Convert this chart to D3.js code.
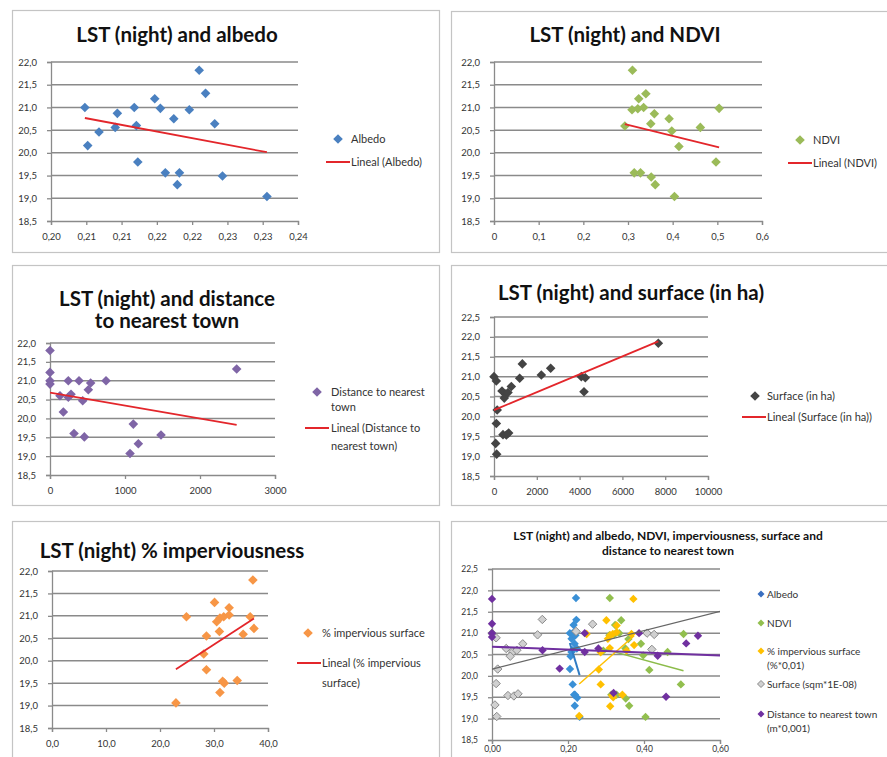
<!DOCTYPE html>
<html><head><meta charset="utf-8">
<script src="https://cdn.jsdelivr.net/npm/d3@7"></script>
<style>body{margin:0;background:#fff}svg{display:block}</style>
</head><body>
<svg id="c" width="887" height="757"></svg>
<script>
// ---------------- DATA ----------------
const albedoX = [0.2048,0.2052,0.2068,0.2091,0.2094,0.2118,0.2121,0.2123,0.2147,0.2155,0.2162,0.2174,0.2179,0.2182,0.2196,0.2210,0.2219,0.2232,0.2243,0.2306];
const albedoY = [21.00,20.16,20.46,20.56,20.87,21.00,20.60,19.80,21.19,20.98,19.56,20.75,19.30,19.56,20.95,21.82,21.31,20.64,19.49,19.04];

const ndviX = [0.310,0.293,0.309,0.324,0.322,0.335,0.340,0.359,0.351,0.392,0.398,0.414,0.462,0.504,0.497,0.314,0.328,0.352,0.361,0.404];
const ndviY = [21.82,20.59,20.95,21.19,20.97,21.00,21.30,20.86,20.64,20.75,20.48,20.14,20.56,20.98,19.80,19.56,19.56,19.47,19.30,19.04];

const distX = [0,0,0,0,133,244,178,244,280,387,436,320,458,511,542,747,1111,1067,1178,1480,2489];
const distY = [21.80,21.22,21.00,20.91,20.60,21.00,20.17,20.56,20.64,21.00,20.47,19.60,19.51,20.76,20.94,21.00,19.85,19.07,19.33,19.56,21.31];

const surfX = [0,109,150,109,78,125,374,545,480,654,810,1199,1324,2212,2648,4081,4268,4206,7679,420,576,685];
const surfY = [21.00,20.89,20.16,19.82,19.32,19.05,20.64,20.56,20.46,20.60,20.75,20.96,21.32,21.04,21.21,21.00,20.97,20.62,21.84,19.54,19.53,19.58];

const impX = [24.9,22.95,28.1,28.6,28.6,30.1,30.5,31.1,31.0,31.1,31.6,31.9,31.8,32.8,32.8,34.3,35.4,36.7,37.2,37.4];
const impY = [20.98,19.06,20.15,20.55,19.80,21.30,20.87,20.95,20.65,19.29,19.54,19.50,20.98,21.18,21.02,19.56,20.59,20.98,21.80,20.72];

// scale factors used in the combined chart
const combFactors = {albedo:1, ndvi:1, imp:0.01, surf:0.0001, dist:0.001};

// ticks
const yTicks22 = [18.5,19.0,19.5,20.0,20.5,21.0,21.5,22.0];
const yTicks225 = [18.5,19.0,19.5,20.0,20.5,21.0,21.5,22.0,22.5];
const albedoTicks = [0.200,0.205,0.210,0.215,0.220,0.225,0.230,0.235];
const albedoTickLabels = ["0,20","0,21","0,21","0,22","0,22","0,23","0,23","0,24"];
const ndviTicks = [0,0.1,0.2,0.3,0.4,0.5,0.6];
const ndviTickLabels = ["0","0,1","0,2","0,3","0,4","0,5","0,6"];
const distTicks = [0,1000,2000,3000];
const distTickLabels = ["0","1000","2000","3000"];
const surfTicks = [0,2000,4000,6000,8000,10000];
const surfTickLabels = ["0","2000","4000","6000","8000","10000"];
const impTicks = [0,10,20,30,40];
const impTickLabels = ["0,0","10,0","20,0","30,0","40,0"];
const combTicks = [0,0.2,0.4,0.6];
const combTickLabels = ["0,00","0,20","0,40","0,60"];

// ---------------- DRAW ----------------
const svg = d3.select('#c');
const FONT = 'Lato, "Open Sans", sans-serif';
const diamond = r => `M0,${-r}L${r},0L0,${r}L${-r},0Z`;
const fmtY = v => d3.format('.1f')(v).replace('.', ',');
const RED = '#e3262b';

function linreg(xs, ys){
  const mx = d3.mean(xs), my = d3.mean(ys);
  let sxy = 0, sxx = 0;
  xs.forEach((v,i)=>{ sxy += (v-mx)*(ys[i]-my); sxx += (v-mx)*(v-mx); });
  const b = sxy/sxx;
  return {a: my - b*mx, b};
}

function drawPanel(c){
  const g = svg.append('g');
  g.append('rect').attr('x',c.box[0]+0.5).attr('y',c.box[1]+0.5)
    .attr('width',c.box[2]-c.box[0]).attr('height',c.box[3]-c.box[1])
    .attr('fill','#fff').attr('stroke','#c4c4c4').attr('stroke-width',1.2);
  c.title.forEach((t,i)=>{
    g.append('text').attr('x',c.titleX).attr('y',c.titleY + i*c.titleLH)
      .attr('text-anchor','middle').attr('font-family',FONT).attr('font-weight','bold')
      .attr('font-size',c.titleSize).attr('fill','#111').text(t);
  });
  const x = d3.scaleLinear().domain(c.xDomain).range([c.plot[0], c.plot[2]]);
  const y = d3.scaleLinear().domain(c.yDomain).range([c.plot[3], c.plot[1]]);
  // gridlines
  g.append('g').selectAll('line').data(c.yTicks.filter(v=>v>c.yDomain[0])).join('line')
    .attr('x1',c.plot[0]).attr('x2',c.plot[2]).attr('y1',d=>y(d)).attr('y2',d=>y(d))
    .attr('stroke','#8a8a8a').attr('stroke-width',1.5);
  const ya = g.append('g').attr('transform',`translate(${c.plot[0]},0)`)
    .call(d3.axisLeft(y).tickValues(c.yTicks).tickFormat(fmtY).tickSize(4).tickPadding(10));
  const xa = g.append('g').attr('transform',`translate(0,${c.plot[3]})`)
    .call(d3.axisBottom(x).tickValues(c.xTicks).tickFormat((d,i)=>c.xLabels[i]).tickSize(4).tickPadding(c.xPad==null?8:c.xPad));
  [ya,xa].forEach(a=>{
    a.selectAll('path,line').attr('stroke','#8a8a8a').attr('stroke-width',1.3);
    a.selectAll('text').attr('font-size',c.tickSize||9.5).attr('fill','#333').attr('font-family',FONT);
  });
  // clip for trendlines
  const cid = 'clip'+c.id;
  g.append('clipPath').attr('id',cid).append('rect')
    .attr('x',c.plot[0]).attr('y',c.plot[1]).attr('width',c.plot[2]-c.plot[0]).attr('height',c.plot[3]-c.plot[1]);
  // points
  c.series.forEach(s=>{
    const pts = s.x.map((v,i)=>[v*s.k, s.y[i]]).filter(d=>d[0]>=c.xDomain[0] && d[0]<=c.xDomain[1]);
    g.append('g').selectAll('path').data(pts).join('path')
      .attr('transform',d=>`translate(${x(d[0])},${y(d[1])})`)
      .attr('d',diamond(c.r)).attr('fill',s.color)
      .attr('stroke',s.stroke||'none').attr('stroke-width',s.stroke?1:0);
  });
  // trendlines
  const tg = g.append('g').attr('clip-path',`url(#${cid})`);
  c.series.forEach(s=>{
    const xs = s.x.map(v=>v*s.k);
    const {a,b} = linreg(xs, s.y);
    const e = d3.extent(xs);
    tg.append('line').attr('x1',x(e[0])).attr('y1',y(a+b*e[0]))
      .attr('x2',x(e[1])).attr('y2',y(a+b*e[1]))
      .attr('stroke',s.trend).attr('stroke-width',s.tw);
  });
  // legend
  const lg = g.append('g').attr('font-family',FONT).attr('font-size',c.legSize).attr('fill','#333');
  c.legend.forEach(it=>{
    if(it.kind==='marker'){
      lg.append('path').attr('transform',`translate(${it.mx},${it.y})`).attr('d',diamond(it.r||c.r))
        .attr('fill',it.color).attr('stroke',it.stroke||'none').attr('stroke-width',it.stroke?1:0);
    } else {
      lg.append('line').attr('x1',it.mx-12).attr('x2',it.mx+12).attr('y1',it.y).attr('y2',it.y)
        .attr('stroke',it.color).attr('stroke-width',2);
    }
    it.lines.forEach((t,i)=>{
      lg.append('text').attr('x',it.tx).attr('y',it.y + i*it.lh).attr('dy','0.35em').text(t);
    });
  });
}

const C_ALB='#4a80c0', C_NDVI='#9bbb59', C_DIST='#7f65a6', C_SURF='#444444', C_IMP='#f79646';

drawPanel({id:1, box:[12,10,439,252], title:["LST (night) and albedo"], titleX:177, titleY:42, titleLH:21, titleSize:20.5,
  plot:[51,62,298,221], xDomain:[0.2,0.235], yDomain:[18.5,22], yTicks:yTicks22, xTicks:albedoTicks, xLabels:albedoTickLabels,
  r:4.8, legSize:11,
  series:[{x:albedoX,y:albedoY,k:1,color:C_ALB,trend:RED,tw:1.8}],
  legend:[{kind:'marker',mx:338,y:139,color:C_ALB,tx:351,lines:["Albedo"],lh:15},
          {kind:'line',mx:338,y:162,color:RED,tx:351,lines:["Lineal (Albedo)"],lh:15}]});

drawPanel({id:2, box:[451,11,895,252], title:["LST (night) and NDVI"], titleX:625, titleY:42, titleLH:21, titleSize:20.5,
  plot:[494,62,762,221], xDomain:[0,0.6], yDomain:[18.5,22], yTicks:yTicks22, xTicks:ndviTicks, xLabels:ndviTickLabels,
  r:4.8, legSize:11,
  series:[{x:ndviX,y:ndviY,k:1,color:C_NDVI,trend:RED,tw:1.8}],
  legend:[{kind:'marker',mx:800,y:140,color:C_NDVI,tx:813,lines:["NDVI"],lh:15},
          {kind:'line',mx:800,y:163,color:RED,tx:813,lines:["Lineal (NDVI)"],lh:15}]});

drawPanel({id:3, box:[12,265,439,505], title:["LST (night) and distance","to nearest town"], titleX:167, titleY:306, titleLH:22, titleSize:20.5,
  plot:[50,343,275,475], xDomain:[0,3000], yDomain:[18.5,22], yTicks:yTicks22, xTicks:distTicks, xLabels:distTickLabels,
  r:4.8, legSize:11,
  series:[{x:distX,y:distY,k:1,color:C_DIST,trend:RED,tw:1.8}],
  legend:[{kind:'marker',mx:317,y:392,color:C_DIST,tx:331,lines:["Distance to nearest","town"],lh:15},
          {kind:'line',mx:317,y:428,color:RED,tx:331,lines:["Lineal (Distance to","nearest town)"],lh:18}]});

drawPanel({id:4, box:[451,265,895,505], title:["LST (night) and surface (in ha)"], titleX:631, titleY:300, titleLH:21, titleSize:20.5,
  plot:[494,317,708,476], xDomain:[0,10000], yDomain:[18.5,22.5], yTicks:yTicks225, xTicks:surfTicks, xLabels:surfTickLabels,
  r:4.8, legSize:11,
  series:[{x:surfX,y:surfY,k:1,color:C_SURF,trend:RED,tw:1.8}],
  legend:[{kind:'marker',mx:755,y:396,color:C_SURF,tx:767,lines:["Surface (in ha)"],lh:15},
          {kind:'line',mx:754,y:417,color:RED,tx:767,lines:["Lineal (Surface (in ha))"],lh:15}]});

drawPanel({id:5, box:[12,521,439,765], title:["LST (night) % imperviousness"], titleX:172, titleY:558, titleLH:21, titleSize:20.5,
  plot:[52,571,268,728], xDomain:[0,40], yDomain:[18.5,22], yTicks:yTicks22, xTicks:impTicks, xLabels:impTickLabels,
  r:4.8, legSize:11,
  series:[{x:impX,y:impY,k:1,color:C_IMP,trend:RED,tw:1.8}],
  legend:[{kind:'marker',mx:308,y:633,color:C_IMP,tx:322,lines:["% impervious surface"],lh:15},
          {kind:'line',mx:309,y:663,color:RED,tx:322,lines:["Lineal (% impervious","surface)"],lh:20}]});

drawPanel({id:6, box:[451,521,895,765], title:["LST (night) and albedo, NDVI, imperviousness, surface and","distance to nearest town"],
  titleX:668, titleY:540, titleLH:15, titleSize:12,
  plot:[492,569,720,740], xDomain:[0,0.6], yDomain:[18.5,22.5], yTicks:yTicks225, xTicks:combTicks, xLabels:combTickLabels,
  r:4.2, legSize:10, tickSize:8.5, xPad:2,
  series:[
    {x:albedoX,y:albedoY,k:combFactors.albedo,color:'#3a90d6',trend:'#2f7cc4',tw:2},
    {x:ndviX,y:ndviY,k:combFactors.ndvi,color:'#92bf4e',trend:'#8cbc4a',tw:1.5},
    {x:impX,y:impY,k:combFactors.imp,color:'#ffc000',trend:'#ffc000',tw:1.5},
    {x:surfX,y:surfY,k:combFactors.surf,color:'#d0d0d0',stroke:'#8a8a8a',trend:'#666666',tw:1.2},
    {x:distX,y:distY,k:combFactors.dist,color:'#7030a0',trend:'#7030a0',tw:2}
  ],
  legend:[
    {kind:'marker',mx:761,y:594,color:'#3a6fc0',r:3.5,tx:767,lines:["Albedo"],lh:14},
    {kind:'marker',mx:761,y:623,color:'#92bf4e',r:3.5,tx:767,lines:["NDVI"],lh:14},
    {kind:'marker',mx:761,y:651,color:'#ffc000',r:3.5,tx:767,lines:["% impervious surface","(%*0,01)"],lh:14},
    {kind:'marker',mx:761,y:684,color:'#d0d0d0',stroke:'#8a8a8a',r:3.5,tx:767,lines:["Surface (sqm*1E-08)"],lh:14},
    {kind:'marker',mx:761,y:714,color:'#7030a0',r:3.5,tx:767,lines:["Distance to nearest town","(m*0,001)"],lh:14}
  ]});
</script>
</body></html>
